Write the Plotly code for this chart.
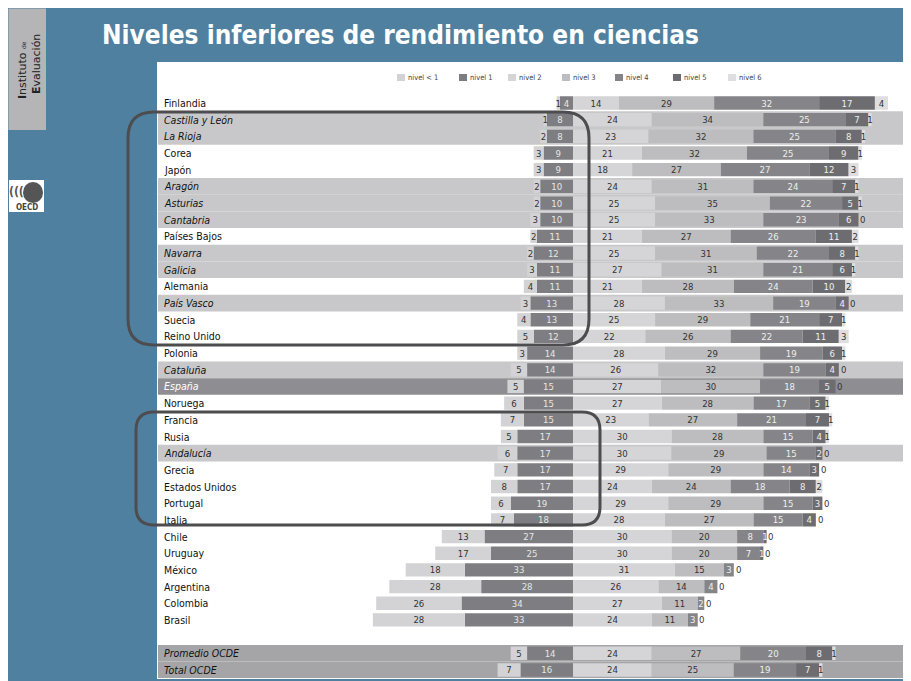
import plotly.graph_objects as go

countries = ["Finlandia", "Castilla y León", "La Rioja", "Corea", "Japón", "Aragón",
             "Asturias", "Cantabria", "Países Bajos", "Navarra", "Galicia", "Alemania",
             "País Vasco", "Suecia", "Reino Unido", "Polonia", "Cataluña", "España",
             "Noruega", "Francia", "Rusia", "Andalucía", "Grecia", "Estados Unidos",
             "Portugal", "Italia", "Chile", "Uruguay", "México", "Argentina", "Colombia",
             "Brasil", "Promedio OCDE", "Total OCDE"]
row_pos = list(range(32)) + [33, 34]

nivel_lt1 = [1, 1, 2, 3, 3, 2, 2, 3, 2, 2, 3, 4, 3, 4, 5, 3, 5, 5, 6, 7, 5, 6, 7, 8, 6, 7,
             13, 17, 18, 28, 26, 28, 5, 7]
nivel_1 = [4, 8, 8, 9, 9, 10, 10, 10, 11, 12, 11, 11, 13, 13, 12, 14, 14, 15, 15, 15, 17, 17,
           17, 17, 19, 18, 27, 25, 33, 28, 34, 33, 14, 16]
nivel_2 = [14, 24, 23, 21, 18, 24, 25, 25, 21, 25, 27, 21, 28, 25, 22, 28, 26, 27, 27, 23, 30,
           30, 29, 24, 29, 28, 30, 30, 31, 26, 27, 24, 24, 24]
nivel_3 = [29, 34, 32, 32, 27, 31, 35, 33, 27, 31, 31, 28, 33, 29, 26, 29, 32, 30, 28, 27, 28,
           29, 29, 24, 29, 27, 20, 20, 15, 14, 11, 11, 27, 25]
nivel_4 = [32, 25, 25, 25, 27, 24, 22, 23, 26, 22, 21, 24, 19, 21, 22, 19, 19, 18, 17, 21, 15,
           15, 14, 18, 15, 15, 8, 7, 3, 4, 2, 3, 20, 19]
nivel_5 = [17, 7, 8, 9, 12, 7, 5, 6, 11, 8, 6, 10, 4, 7, 11, 6, 4, 5, 5, 7, 4, 2, 3, 8, 3, 4,
           1, 1, 0, 0, 0, 0, 8, 7]
nivel_6 = [4, 1, 1, 1, 3, 1, 1, 0, 2, 1, 1, 2, 0, 1, 3, 1, 0, 0, 1, 1, 1, 0, 0, 2, 0, 0,
           0, 0, 0, 0, 0, 0, 1, 1]

level_names = ["nivel < 1", "nivel 1", "nivel 2", "nivel 3", "nivel 4", "nivel 5", "nivel 6"]
level_colors = ["#d3d3d5", "#7e7e82", "#d5d5d7", "#bdbdc0", "#858589", "#6d6d71", "#dedee0"]
text_colors = ["#333333", "#e6e6e6", "#333333", "#333333", "#eeeeee", "#eeeeee", "#333333"]

spanish = {"Castilla y León", "La Rioja", "Aragón", "Asturias", "Cantabria", "Navarra",
           "Galicia", "País Vasco", "Cataluña", "Andalucía"}

# the page has an 8px body margin: figure spans window pixels 8..911 x 8..681
OFF = 8
W, H = 911 - OFF, 681 - OFF
FONT = "Liberation Sans Narrow, Arial Narrow, DejaVu Sans Condensed, sans-serif"


def px(x):
    return (x - OFF) / W


def py(y):
    return 1 - (y - OFF) / H


fig = go.Figure()

series = [nivel_lt1, nivel_1, nivel_2, nivel_3, nivel_4, nivel_5, nivel_6]
# negative side: nivel 1 next to the axis, then nivel < 1
order = [1, 0, 2, 3, 4, 5, 6]
for k in order:
    vals = series[k]
    xs = [-v for v in vals] if k < 2 else vals
    fig.add_trace(go.Bar(
        y=row_pos, x=xs, orientation="h", name=level_names[k],
        marker=dict(color=level_colors[k], line=dict(width=0)),
        width=0.8,
        text=[str(v) for v in vals], textposition="inside",
        insidetextanchor="middle", constraintext="none", textangle=0,
        insidetextfont=dict(family=FONT, size=9.5, color=text_colors[k]),
        showlegend=False, hoverinfo="skip", cliponaxis=False,
    ))

shapes = []
annotations = []

# zero-valued nivel 6 labels at the end of each stack
for i, yp in enumerate(row_pos):
    if nivel_6[i] == 0:
        end = nivel_2[i] + nivel_3[i] + nivel_4[i] + nivel_5[i]
        annotations.append(dict(x=end + 1.3, xref="x", y=yp, yref="y", text="0",
                                showarrow=False, xanchor="center", yanchor="middle",
                                font=dict(family=FONT, size=9.5, color="#333333")))

# white panel
shapes.append(dict(type="rect", xref="paper", yref="paper", x0=px(157), x1=1, y0=py(679),
                   y1=py(62), fillcolor="#ffffff", line=dict(width=0), layer="below"))

# row bands
for name, yp in zip(countries, row_pos):
    col = None
    if name in spanish:
        col = "#c8c8ca"
    elif name == "España":
        col = "#8e8e92"
    elif "OCDE" in name:
        col = "#a5a5a8"
    if col:
        shapes.append(dict(type="rect", xref="paper", yref="y", x0=px(158), x1=1,
                           y0=yp - 0.5, y1=yp + 0.5, fillcolor=col, line=dict(width=0),
                           layer="below"))

# row labels
for name, yp in zip(countries, row_pos):
    italic = name in spanish or name == "España" or "OCDE" in name
    txt = f"<i>{name}</i>" if italic else name
    color = "#ffffff" if name == "España" else "#111111"
    annotations.append(dict(x=px(162), xref="paper", y=yp, yref="y", text=txt,
                            showarrow=False, xanchor="left", yanchor="middle",
                            font=dict(family=FONT, size=10.5, color=color)))


def rounded(x0, y0, x1, y1, r):
    X0, X1 = px(x0), px(x1)
    Y0, Y1 = py(y0), py(y1)
    rx, ry = r / W, r / H
    return (f"M {X0 + rx},{Y0} L {X1 - rx},{Y0} Q {X1},{Y0} {X1},{Y0 - ry} "
            f"L {X1},{Y1 + ry} Q {X1},{Y1} {X1 - rx},{Y1} L {X0 + rx},{Y1} "
            f"Q {X0},{Y1} {X0},{Y1 + ry} L {X0},{Y0 - ry} Q {X0},{Y0} {X0 + rx},{Y0} Z")


shapes.append(dict(type="path", xref="paper", yref="paper", path=rounded(128, 112, 589, 345, 26),
                   line=dict(color="#4d4d4f", width=3)))
shapes.append(dict(type="path", xref="paper", yref="paper", path=rounded(136, 412, 600, 525, 18),
                   line=dict(color="#4d4d4f", width=3)))

# custom legend
leg_x = [397, 459, 508, 562, 615, 673, 728]
for k in range(7):
    shapes.append(dict(type="rect", xref="paper", yref="paper", x0=px(leg_x[k]),
                       x1=px(leg_x[k] + 8), y0=py(81), y1=py(74),
                       fillcolor=level_colors[k], line=dict(width=0)))
    annotations.append(dict(x=px(leg_x[k] + 9), xref="paper", y=py(77.5), yref="paper",
                            text=level_names[k], showarrow=False, xanchor="left",
                            yanchor="middle", font=dict(family=FONT, size=7.5, color="#444444")))

# title
annotations.append(dict(x=px(100), xref="paper", y=py(35), yref="paper",
                        text="<b>Niveles inferiores de rendimiento en ciencias</b>",
                        showarrow=False, xanchor="left", yanchor="middle",
                        font=dict(family=FONT, size=26, color="#ffffff")))

# logo boxes
shapes.append(dict(type="rect", xref="paper", yref="paper", x0=px(8.5), x1=px(46), y0=py(130),
                   y1=py(8.5), fillcolor="#b5b5b8", line=dict(width=0)))
annotations.append(dict(x=px(22), xref="paper", y=py(70), yref="paper",
                        text="<b>I</b>nstituto <span style='font-size:6px'>de</span>",
                        showarrow=False, textangle=-90, xanchor="center", yanchor="middle",
                        font=dict(family="DejaVu Sans", size=11, color="#222222")))
annotations.append(dict(x=px(36), xref="paper", y=py(64), yref="paper",
                        text="<b>E</b>valuación", showarrow=False, textangle=-90,
                        xanchor="center", yanchor="middle",
                        font=dict(family="DejaVu Sans", size=11, color="#222222")))
shapes.append(dict(type="rect", xref="paper", yref="paper", x0=px(9), x1=px(44), y0=py(212),
                   y1=py(180), fillcolor="#ffffff", line=dict(width=0)))
shapes.append(dict(type="circle", xref="paper", yref="paper", x0=px(23), x1=px(43), y0=py(203),
                   y1=py(182), fillcolor="#555555", line=dict(width=0)))
annotations.append(dict(x=px(26.5), xref="paper", y=py(207), yref="paper", text="<b>OECD</b>",
                        showarrow=False, xanchor="center", yanchor="middle",
                        font=dict(family="DejaVu Sans Condensed", size=8, color="#444444")))
annotations.append(dict(x=px(16), xref="paper", y=py(192), yref="paper", text="<b>(((</b>",
                        showarrow=False, xanchor="center", yanchor="middle",
                        font=dict(family="DejaVu Sans Condensed", size=12, color="#555555")))

fig.update_layout(
    width=W, height=H,
    margin=dict(l=0, r=0, t=0, b=0),
    paper_bgcolor="#5080a0",
    plot_bgcolor="rgba(0,0,0,0)",
    barmode="relative", bargap=0.2,
    xaxis=dict(range=[-126.8, 103.0], domain=[px(157), 1], visible=False, fixedrange=True),
    yaxis=dict(range=[34.5, -0.5], domain=[py(678.3), py(94.66)], visible=False,
               fixedrange=True),
    shapes=shapes, annotations=annotations,
    font=dict(family=FONT),
    showlegend=False,
)

fig.write_html("out.html")
